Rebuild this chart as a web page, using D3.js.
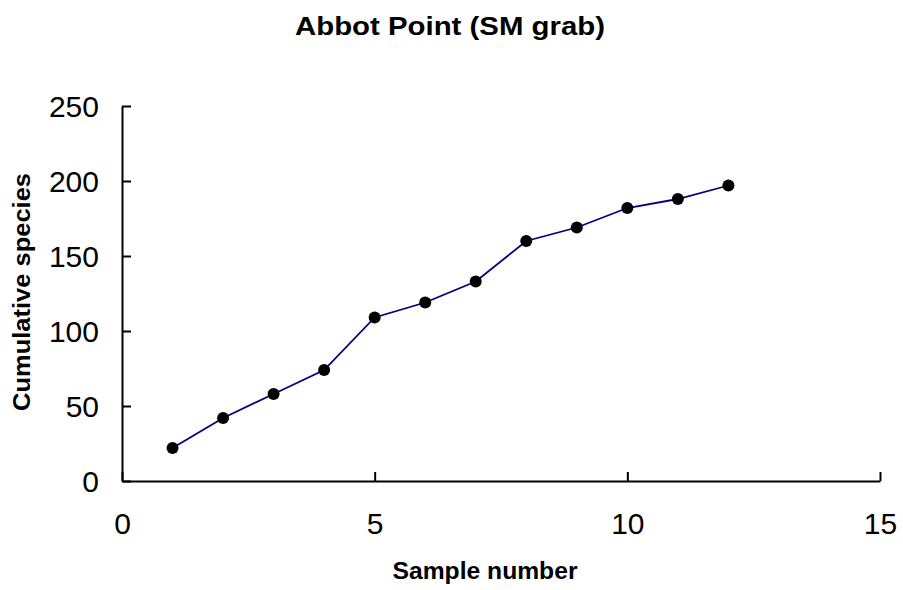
<!DOCTYPE html>
<html>
<head>
<meta charset="utf-8">
<script src="https://cdn.jsdelivr.net/npm/d3@7"></script>
<style>
  body { margin: 0; background: #fff; }
  svg { font-family: "Liberation Sans", Arial, sans-serif; }
</style>
</head>
<body>
<div id="chart"></div>
<script>
// data
var samples = [1, 2, 3, 4, 5, 6, 7, 8, 9, 10, 11, 12];
var species = [22, 42, 58, 74, 109, 119, 133, 160, 169, 182, 188, 197];
var xTicks = [0, 5, 10, 15];
var yTicks = [0, 50, 100, 150, 200, 250];

var svg = d3.select("#chart")
  .append("svg")
    .attr("width", 903)
    .attr("height", 590);

var x = d3.scaleLinear().domain([0, 15]).range([122, 880]);
var y = d3.scaleLinear().domain([0, 250]).range([481, 106]);

// title (glyphs a bit wider than plain Arial in the original)
svg.append("text")
    .attr("x", 450)
    .attr("y", 35)
    .attr("text-anchor", "middle")
    .attr("textLength", 310)
    .attr("lengthAdjust", "spacingAndGlyphs")
    .style("font-size", "26px")
    .style("font-weight", "bold")
    .text("Abbot Point (SM grab)");

// x axis, ticks pointing inward
var xAxis = svg.append("g")
    .attr("transform", "translate(0," + y(0) + ")")
    .call(d3.axisTop(x).tickValues(xTicks).tickSize(9).tickSizeOuter(0));
xAxis.selectAll("text")
    .attr("y", 0)
    .attr("dy", "53px")
    .style("font-size", "30px");

// y axis, ticks pointing inward
var yAxis = svg.append("g")
    .attr("transform", "translate(" + x(0) + ",0)")
    .call(d3.axisRight(y).tickValues(yTicks).tickSize(9).tickSizeOuter(0));
yAxis.selectAll("text")
    .attr("x", -23)
    .attr("dy", "0.36em")
    .attr("text-anchor", "end")
    .style("font-size", "30px");

svg.selectAll(".domain, .tick line")
    .attr("stroke", "#000")
    .attr("stroke-width", 2);
svg.selectAll(".tick text").attr("fill", "#000").style("font-family", "Liberation Sans, Arial, sans-serif");

// axis titles
svg.append("text")
    .attr("x", 485)
    .attr("y", 579)
    .attr("text-anchor", "middle")
    .attr("textLength", 185)
    .attr("lengthAdjust", "spacingAndGlyphs")
    .style("font-size", "24px")
    .style("font-weight", "bold")
    .text("Sample number");

svg.append("text")
    .attr("transform", "translate(30,292) rotate(-90)")
    .attr("text-anchor", "middle")
    .attr("textLength", 238)
    .attr("lengthAdjust", "spacingAndGlyphs")
    .style("font-size", "24px")
    .style("font-weight", "bold")
    .text("Cumulative species");

// series
var pts = samples.map(function(s, i) { return [s, species[i]]; });

var line = d3.line()
    .x(function(d) { return x(d[0]); })
    .y(function(d) { return y(d[1]); });

svg.append("path")
    .datum(pts)
    .attr("fill", "none")
    .attr("stroke", "#000080")
    .attr("stroke-width", 1.8)
    .attr("d", line);

svg.selectAll(".dot")
  .data(pts)
  .enter().append("circle")
    .attr("class", "dot")
    .attr("cx", function(d) { return x(d[0]); })
    .attr("cy", function(d) { return y(d[1]); })
    .attr("r", 6)
    .attr("fill", "#000");
</script>
</body>
</html>
